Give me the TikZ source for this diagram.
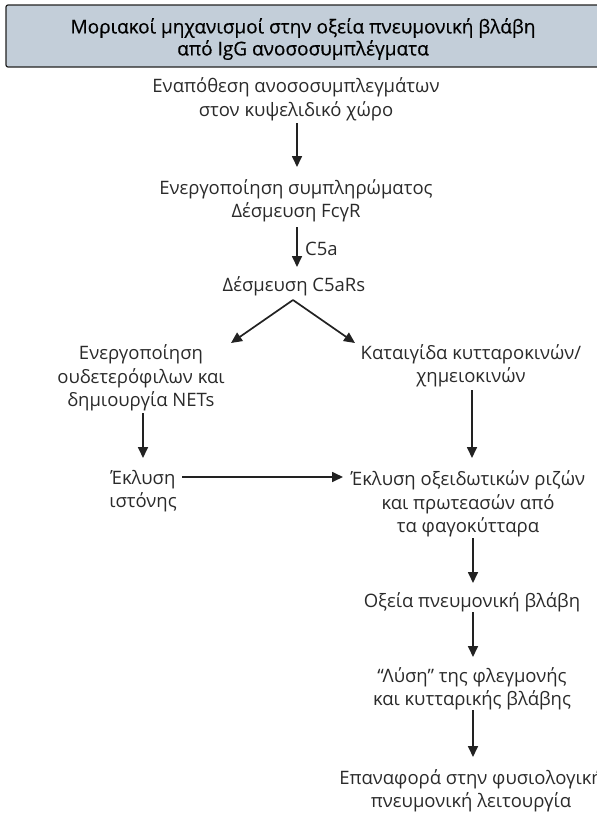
\documentclass[tikz,border=0pt]{standalone}
\usepackage{fontspec}
\setmainfont{Open Sans}
\newfontfamily\titlefont[FakeBold=0.4]{Open Sans}
\usetikzlibrary{arrows.meta}
\definecolor{boxfill}{HTML}{C3CED9}
\definecolor{txt}{HTML}{2A2A2A}
\definecolor{ink}{HTML}{222222}
\tikzset{
  lbl/.style={text=txt, align=center, inner sep=0pt, font=\fontsize{18.5}{23.5}\selectfont},
  arr/.style={draw=ink, line width=1.7pt, -{Triangle[length=11pt,width=10pt]}},
  titlebox/.style={draw=ink, line width=1.2pt, fill=boxfill, rounded corners=2pt}
}
\begin{document}
\begin{tikzpicture}[x=1pt,y=-1pt]
\useasboundingbox (0,0) rectangle (597,822);
\draw[titlebox] (6,5) rectangle (610,67);
\node[lbl, font=\titlefont\fontsize{19}{22}\selectfont, text=black] (title) at (303,39) {Μοριακοί μηχανισμοί στην οξεία πνευμονική βλάβη\\από IgG ανοσοσυμπλέγματα};
\node[lbl] (n1) at (296,99.5) {Εναπόθεση ανοσοσυμπλεγμάτων\\στον κυψελιδικό χώρο};
\node[lbl] (n2) at (296,201) {Ενεργοποίηση συμπληρώματος\\Δέσμευση FcγR};
\node[lbl] (n3) at (294,286) {Δέσμευση C5aRs};
\node[lbl] (n4) at (141,378) {Ενεργοποίηση\\ουδετερόφιλων και\\δημιουργία NETs};
\node[lbl] (n5) at (471,366) {Καταιγίδα κυτταροκινών/\\χημειοκινών};
\node[lbl] (n6) at (143,491) {Έκλυση\\ιστόνης};
\node[lbl] (n7) at (468,504) {Έκλυση οξειδωτικών ριζών\\και πρωτεασών από\\τα φαγοκύτταρα};
\node[lbl] (n8) at (472,602) {Οξεία πνευμονική βλάβη};
\node[lbl] (n9) at (472,689) {“Λύση” της φλεγμονής\\και κυτταρικής βλάβης};
\node[lbl] (n10) at (471,791) {Επαναφορά στην φυσιολογική\\πνευμονική λειτουργία};
\node[lbl, anchor=west] (c5a) at (305,249) {C5a};
\coordinate (apex) at (293,300);
\draw[arr] (297,123) -- (297,167);
\draw[arr] (297,227) -- (297,267);
\draw[arr] (apex) -- (231,343);
\draw[arr] (apex) -- (355,343);
\draw[arr] (143,413) -- (143,458);
\draw[arr] (472,390) -- (472,458);
\draw[arr] (182,477) -- (343,477);
\draw[arr] (473,538) -- (473,583);
\draw[arr] (473,612) -- (473,657);
\draw[arr] (473,710) -- (473,757);
\end{tikzpicture}
\end{document}
